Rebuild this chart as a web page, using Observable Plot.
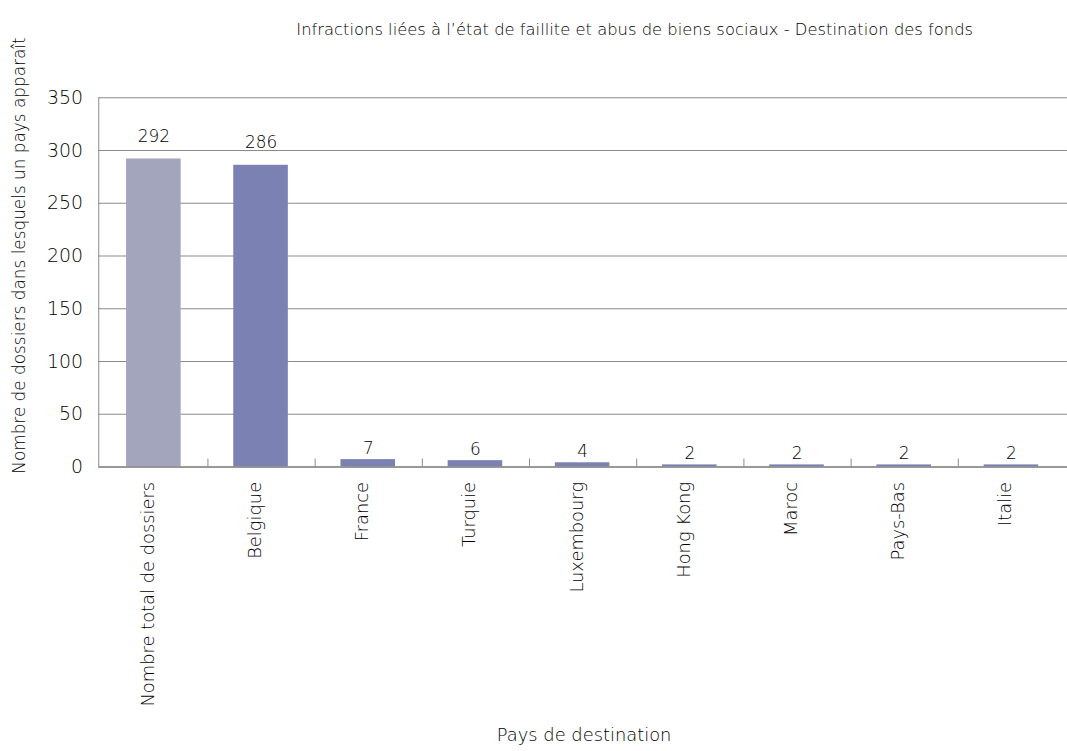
<!DOCTYPE html>
<html><head><meta charset="utf-8">
<script src="https://cdn.jsdelivr.net/npm/d3@7"></script>
<script src="https://cdn.jsdelivr.net/npm/@observablehq/plot@0.6"></script>
<style>
html,body{margin:0;padding:0;background:#fff;overflow:hidden;}
#chart{width:1067px;height:751px;overflow:hidden;}
</style></head>
<body><div id="chart"></div>
<script>
const categories = ["Nombre total de dossiers","Belgique","France","Turquie","Luxembourg","Hong Kong","Maroc","Pays-Bas","Italie"];
const values = [292, 286, 7, 6, 4, 2, 2, 2, 2];
const yTicks = [0, 50, 100, 150, 200, 250, 300, 350];
const title = "Infractions liées à l’état de faillite et abus de biens sociaux - Destination des fonds";
const xTitle = "Pays de destination";
const yTitle = "Nombre de dossiers dans lesquels un pays apparaît";

const data = categories.map((c, i) => ({cat: c, value: values[i], total: i === 0}));
const font = "'DejaVu Sans', sans-serif";
const grid = "#8a8a8a";
const ink = "#000";

const frameLines = (index, scales, values, dims) => {
  const x = scales.x;
  const bw = x.bandwidth ? x.bandwidth() : 0;
  const st = x.step ? x.step() : bw;
  const y0 = dims.height - dims.marginBottom;
  const ns = "http://www.w3.org/2000/svg";
  const g = document.createElementNS(ns, "g");
  const line = (x1, y1, x2, y2) => {
    const l = document.createElementNS(ns, "line");
    l.setAttribute("x1", x1); l.setAttribute("x2", x2);
    l.setAttribute("y1", y1); l.setAttribute("y2", y2);
    l.setAttribute("stroke", grid);
    g.appendChild(l);
  };
  line(dims.marginLeft + 0.5, dims.marginTop, dims.marginLeft + 0.5, y0);
  categories.slice(1).forEach(c => {
    const xp = Math.round(x(c) - (st - bw) / 2) + 0.5;
    line(xp, y0 - 8, xp, y0);
  });
  return g;
};

const chart = Plot.plot({
  width: 1075,
  height: 751,
  marginTop: 98,
  marginBottom: 281,
  marginLeft: 99,
  marginRight: 0,
  style: {fontFamily: font, fontSize: "18px", fontWeight: 300, color: ink, background: "#fff"},
  x: {domain: categories, paddingInner: 0.49, paddingOuter: 0.245, axis: null},
  y: {domain: [0, 350], axis: null},
  marks: [
    Plot.ruleY(yTicks, {stroke: grid, strokeWidth: 1}),
    Plot.axisY(yTicks, {tickSize: 0, tickPadding: 16, fontSize: 19, fill: ink, label: null}),
    Plot.barY(data, {x: "cat", y: "value", fill: d => d.total ? "#a3a5bd" : "#7c81b4"}),
    Plot.ruleY([0], {stroke: grid, strokeWidth: 1.5}),
    frameLines,
    Plot.text(data.filter(d => d.value > 100), {x: "cat", y: "value", text: d => String(d.value), dy: -23, fontSize: 17, fill: ink}),
    Plot.text(data.filter(d => d.value <= 100), {x: "cat", y: "value", text: d => String(d.value), dy: -11, fontSize: 17, fill: ink}),
    Plot.text(data, {x: "cat", frameAnchor: "bottom", text: "cat", rotate: -90, textAnchor: "end", dy: 15, fontSize: 18, fill: ink}),
    Plot.text([title], {frameAnchor: "top", text: d => d, dy: -75, dx: 52, fontSize: 16.5, fill: ink}),
    Plot.text([xTitle], {frameAnchor: "bottom", text: d => d, dy: 276, dx: 1, fontSize: 18, fill: ink}),
    Plot.text([yTitle], {frameAnchor: "left", textAnchor: "middle", text: d => d, rotate: -90, dx: -80, dy: -27, fontSize: 17, fill: ink})
  ]
});
document.getElementById("chart").appendChild(chart);
</script>
</body></html>
